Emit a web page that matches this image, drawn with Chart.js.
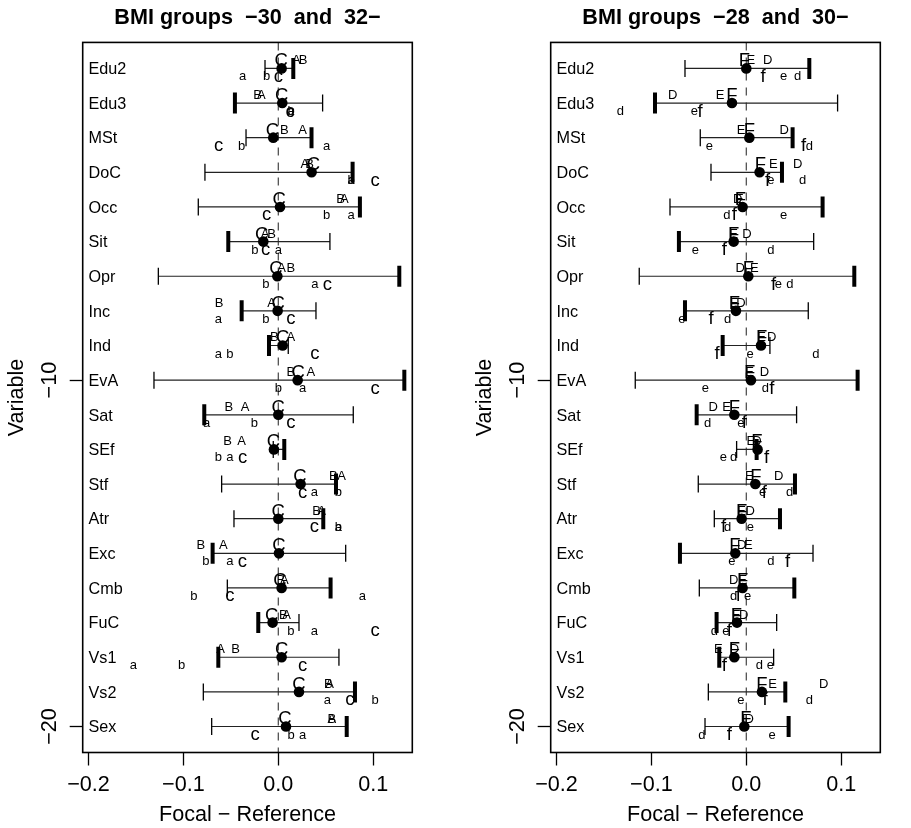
<!DOCTYPE html>
<html><head><meta charset="utf-8">
<script src="https://cdn.jsdelivr.net/npm/chart.js@4.4.1/dist/chart.umd.min.js"></script>
<style>
html,body{margin:0;padding:0;background:#fff;}
#wrap{position:relative;width:911px;height:828px;overflow:hidden;}
canvas{position:absolute;top:0;}
#c1{left:0;} #c2{left:468px;}
</style></head><body>
<div id="wrap"><canvas id="c1" width="466" height="828"></canvas><canvas id="c2" width="443" height="828"></canvas></div>
<script>
// ---------- data ----------
const variables = ['Edu2','Edu3','MSt','DoC','Occ','Sit','Opr','Inc','Ind','EvA','Sat','SEf','Stf','Atr','Exc','Cmb','FuC','Vs1','Vs2','Sex'];
const xTicks = [-0.2, -0.1, 0, 0.1];
const xTickLabels = ['−0.2', '−0.1', '0.0', '0.1'];
const yTicks = [-10, -20];
const yTickLabels = ['−10', '−20'];
const labelX = -0.2;
const thickSide = ['R','L','R','R','R','L','R','L','L','R','L','R','R','R','L','R','L','L','R','R'];

// left panel: BMI groups -30 and 32-
const leftTitle = 'BMI groups  −30  and  32−';
const leftLo = [-0.014,-0.0457,-0.034,-0.0773,-0.0843,-0.0527,-0.1264,-0.0386,-0.0098,-0.131,-0.078,-0.0053,-0.0597,-0.0467,-0.0692,-0.0537,-0.0211,-0.0632,-0.079,-0.0702];
const leftHi = [0.0158,0.0467,0.035,0.0783,0.086,0.0544,0.1275,0.0397,0.0105,0.1328,0.079,0.0063,0.0608,0.0474,0.071,0.0551,0.0218,0.0639,0.0808,0.0721];
const leftPoint = [0.0035,0.0042,-0.0053,0.0351,0.0018,-0.0158,-0.001,-0.0007,0.0046,0.0204,0.0,-0.0046,0.0235,0.0,0.0007,0.0035,-0.006,0.0035,0.0218,0.0081];
const leftA = [0.019,-0.018,0.0256,0.028,0.0695,-0.014,0.0035,-0.007,0.0133,0.0344,-0.035,-0.0386,0.0667,0.0457,-0.058,0.0063,0.0088,-0.0608,0.054,0.0563];
const leftB = [0.026,-0.0218,0.0063,0.033,0.0657,-0.007,0.0133,-0.0625,-0.0042,0.0133,-0.052,-0.0534,0.058,0.0404,-0.0815,0.0028,0.0053,-0.045,0.0527,0.0563];
const leftC = [0.003,0.0035,-0.0063,0.0369,0.001,-0.0176,-0.0025,0.0,0.0046,0.021,0.0,-0.005,0.0228,0.0,0.0007,0.0018,-0.007,0.0035,0.0218,0.0071];
const lefta = [-0.0376,0.013,0.051,0.0766,0.0766,0.0,0.0386,-0.0632,-0.0632,0.0256,-0.0755,-0.051,0.0379,0.0632,-0.051,0.0885,0.0379,-0.1528,0.0516,0.0257];
const leftb = [-0.0123,0.0135,-0.0386,0.0766,0.0509,-0.0246,-0.013,-0.013,-0.051,0.0,-0.0253,-0.0632,0.0632,0.0632,-0.0762,-0.0889,0.0133,-0.1019,0.1019,0.0134];
const leftc = [0.0,0.0125,-0.063,0.1019,-0.0123,-0.0133,0.0516,0.0133,0.0386,0.1019,0.0133,-0.0376,0.0256,0.0379,-0.0379,-0.051,0.1019,0.0256,0.0755,-0.0245];

// right panel: BMI groups -28 and 30-
const rightTitle = 'BMI groups  −28  and  30−';
const rightLo = [-0.0646,-0.0962,-0.0485,-0.0372,-0.0804,-0.071,-0.1128,-0.0646,-0.0249,-0.117,-0.0523,-0.0102,-0.0506,-0.0337,-0.0699,-0.0495,-0.0313,-0.0285,-0.04,-0.0435];
const rightHi = [0.0664,0.0962,0.0488,0.0376,0.0804,0.071,0.1138,0.0653,0.0249,0.1173,0.053,0.0109,0.0513,0.0355,0.0703,0.0506,0.032,0.0288,0.0411,0.0446];
const rightPoint = [0.0,-0.0151,0.0032,0.014,-0.0039,-0.0133,0.0021,-0.0109,0.0155,0.0049,-0.0126,0.0119,0.0095,-0.0049,-0.0116,-0.0039,-0.0098,-0.0126,0.0165,-0.0021];
const rightD = [0.0225,-0.0776,0.04,0.0541,-0.0091,0.0007,-0.0063,-0.0056,0.0267,0.019,-0.0348,0.0112,0.0341,0.0042,-0.0049,-0.0133,-0.0028,-0.0126,0.0815,0.003];
const rightE = [0.0049,-0.0277,-0.0056,0.0285,-0.0074,-0.0133,0.0084,-0.0126,0.0162,0.0035,-0.0207,0.0049,0.0032,-0.0049,0.0021,-0.0039,-0.0105,-0.0295,0.0277,0.0];
const rightF = [-0.002,-0.0151,0.0032,0.0148,-0.0063,-0.0133,0.0021,-0.0126,0.0162,0.0035,-0.0126,0.0112,0.0102,-0.0049,-0.0119,-0.0039,-0.0105,-0.0126,0.0165,-0.0005];
const rightd = [0.0541,-0.1328,0.0664,0.0594,-0.0204,0.026,0.046,-0.0197,0.0734,0.02,-0.0407,-0.0133,0.0457,-0.0197,0.026,-0.0133,-0.0337,0.0137,0.0664,-0.0467];
const righte = [0.0393,-0.0548,-0.039,0.026,0.0393,-0.0537,0.0337,-0.0678,0.0039,-0.0432,-0.0056,-0.0242,0.0172,0.0042,-0.0151,0.0014,-0.0214,0.0253,-0.0056,0.0271];
const rightf = [0.0176,-0.0488,0.0604,0.0225,-0.0126,-0.0232,0.0288,-0.0372,-0.0309,0.027,-0.0021,0.0214,0.019,-0.0239,0.0436,-0.0084,-0.0179,-0.0232,0.0197,-0.0179];

// ---------- styles / layout ----------
const FONT = '"Liberation Sans", Arial, Helvetica, sans-serif';
Chart.defaults.font.family = FONT;
Chart.defaults.color = '#000';
const X_MIN = -0.2061, X_MAX = 0.1412, Y_MIN = -20.75, Y_MAX = -0.25;
const SMALL = 13, BIG = 18.5;

const letterPlugin = {
  id: 'letters',
  afterDatasetsDraw(chart) {
    const ctx = chart.ctx;
    chart.data.datasets.forEach((ds, i) => {
      if (!ds.texts) return;
      const meta = chart.getDatasetMeta(i);
      ctx.save();
      ctx.fillStyle = '#000';
      ctx.font = ds.fontSize + 'px ' + FONT;
      ctx.textAlign = ds.textAlign || 'center';
      ctx.textBaseline = 'alphabetic';
      meta.data.forEach((el, j) => {
        ctx.fillText(ds.texts[j], el.x, el.y + ds.fontSize * ds.vshift);
      });
      ctx.restore();
    });
  }
};
const boxPlugin = {
  id: 'box',
  afterDraw(chart) {
    const a = chart.chartArea, ctx = chart.ctx;
    ctx.save();
    ctx.strokeStyle = '#000';
    ctx.lineWidth = 1.6;
    ctx.strokeRect(a.left, a.top, a.right - a.left, a.bottom - a.top);
    ctx.restore();
  }
};

function buildDatasets(lo, hi, pt, upper, lower) {
  const rowY = variables.map((v, i) => -(i + 1));
  const ds = [];
  ds.push({label: 'zero', data: [{x: 0, y: Y_MAX}, {x: 0, y: Y_MIN}], showLine: true,
    borderColor: '#444', borderWidth: 1.2, borderDash: [8, 7], pointRadius: 0, order: 10});
  variables.forEach((v, i) => ds.push({label: 'interval ' + v,
    data: [{x: lo[i], y: rowY[i]}, {x: hi[i], y: rowY[i]}], showLine: true,
    borderColor: '#222', borderWidth: 1.2, pointRadius: 0, order: 9}));
  ds.push({label: 'caps', data: lo.map((v, i) => ({x: v, y: rowY[i]})).concat(hi.map((v, i) => ({x: v, y: rowY[i]}))),
    pointStyle: 'line', pointRotation: 90, pointRadius: 8.5, pointBorderWidth: 1.3, pointBorderColor: '#000', order: 8});
  ds.push({label: 'thick', data: thickSide.map((s, i) => ({x: s === 'L' ? lo[i] : hi[i], y: rowY[i]})),
    pointStyle: 'line', pointRotation: 90, pointRadius: 10.5, pointBorderWidth: 4, pointBorderColor: '#000', order: 7});
  ds.push({label: 'estimate', data: pt.map((v, i) => ({x: v, y: rowY[i]})),
    pointStyle: 'circle', pointRadius: 5.3, pointBackgroundColor: '#000', pointBorderColor: '#000', pointBorderWidth: 0, order: 6});
  upper.forEach(([ch, vals, size]) => ds.push({label: ch, data: vals.map((v, i) => ({x: v, y: rowY[i] + 0.25})),
    pointRadius: 0, texts: vals.map(() => ch), fontSize: size, vshift: 0.358, order: 1}));
  lower.forEach(([ch, vals, size]) => ds.push({label: ch, data: vals.map((v, i) => ({x: v, y: rowY[i] - 0.25})),
    pointRadius: 0, texts: vals.map(() => ch), fontSize: size, vshift: 0.26, order: 1}));
  ds.push({label: 'names', data: variables.map((v, i) => ({x: labelX, y: rowY[i]})), pointRadius: 0,
    texts: variables, fontSize: 16.2, vshift: 0.358, textAlign: 'left', order: 1});
  return ds;
}

function makeChart(id, title, padRight, datasets) {
  return new Chart(document.getElementById(id), {
    type: 'scatter',
    data: {datasets},
    plugins: [letterPlugin, boxPlugin],
    options: {
      responsive: false, animation: false, devicePixelRatio: 1, events: [],
      layout: {padding: {left: 0, right: padRight, top: 0, bottom: 0}},
      plugins: {
        legend: {display: false}, tooltip: {enabled: false},
        title: {display: true, text: title, fullSize: false, color: '#000',
          font: {family: FONT, size: 21.6, weight: 'bold'}, padding: {top: 5, bottom: 11.5}}
      },
      scales: {
        x: {type: 'linear', min: X_MIN, max: X_MAX,
          afterBuildTicks: s => { s.ticks = xTicks.map(v => ({value: v})); },
          afterFit: s => { s.height = 75.5; },
          ticks: {autoSkip: false, maxRotation: 0, padding: 6.5, color: '#000', font: {size: 21.6},
            callback: v => xTickLabels[xTicks.indexOf(v)]},
          grid: {drawOnChartArea: false, drawTicks: true, tickLength: 13, tickColor: '#000', tickWidth: 1.3},
          border: {display: false},
          title: {display: true, text: 'Focal − Reference', color: '#000', font: {size: 21.6}, padding: {top: 2, bottom: 0}}
        },
        y: {type: 'linear', min: Y_MIN, max: Y_MAX,
          afterBuildTicks: s => { s.ticks = yTicks.map(v => ({value: v})); },
          afterFit: s => { s.width = 82.7; },
          ticks: {autoSkip: false, minRotation: 90, maxRotation: 90, crossAlign: 'center', padding: 1.2, color: '#000', font: {size: 21.6},
            callback: v => yTickLabels[yTicks.indexOf(v)]},
          grid: {drawOnChartArea: false, drawTicks: true, tickLength: 13, tickColor: '#000', tickWidth: 1.3},
          border: {display: false},
          title: {display: true, text: 'Variable', color: '#000', font: {size: 21.6}, padding: {top: 4, bottom: 0}}
        }
      }
    }
  });
}

makeChart('c1', leftTitle, 53.7, buildDatasets(leftLo, leftHi, leftPoint,
  [['A', leftA, SMALL], ['B', leftB, SMALL], ['C', leftC, BIG]],
  [['a', lefta, SMALL], ['b', leftb, SMALL], ['c', leftc, BIG]]));
makeChart('c2', rightTitle, 30.7, buildDatasets(rightLo, rightHi, rightPoint,
  [['D', rightD, SMALL], ['E', rightE, SMALL], ['F', rightF, BIG]],
  [['d', rightd, SMALL], ['e', righte, SMALL], ['f', rightf, BIG]]));
</script>
</body></html>
